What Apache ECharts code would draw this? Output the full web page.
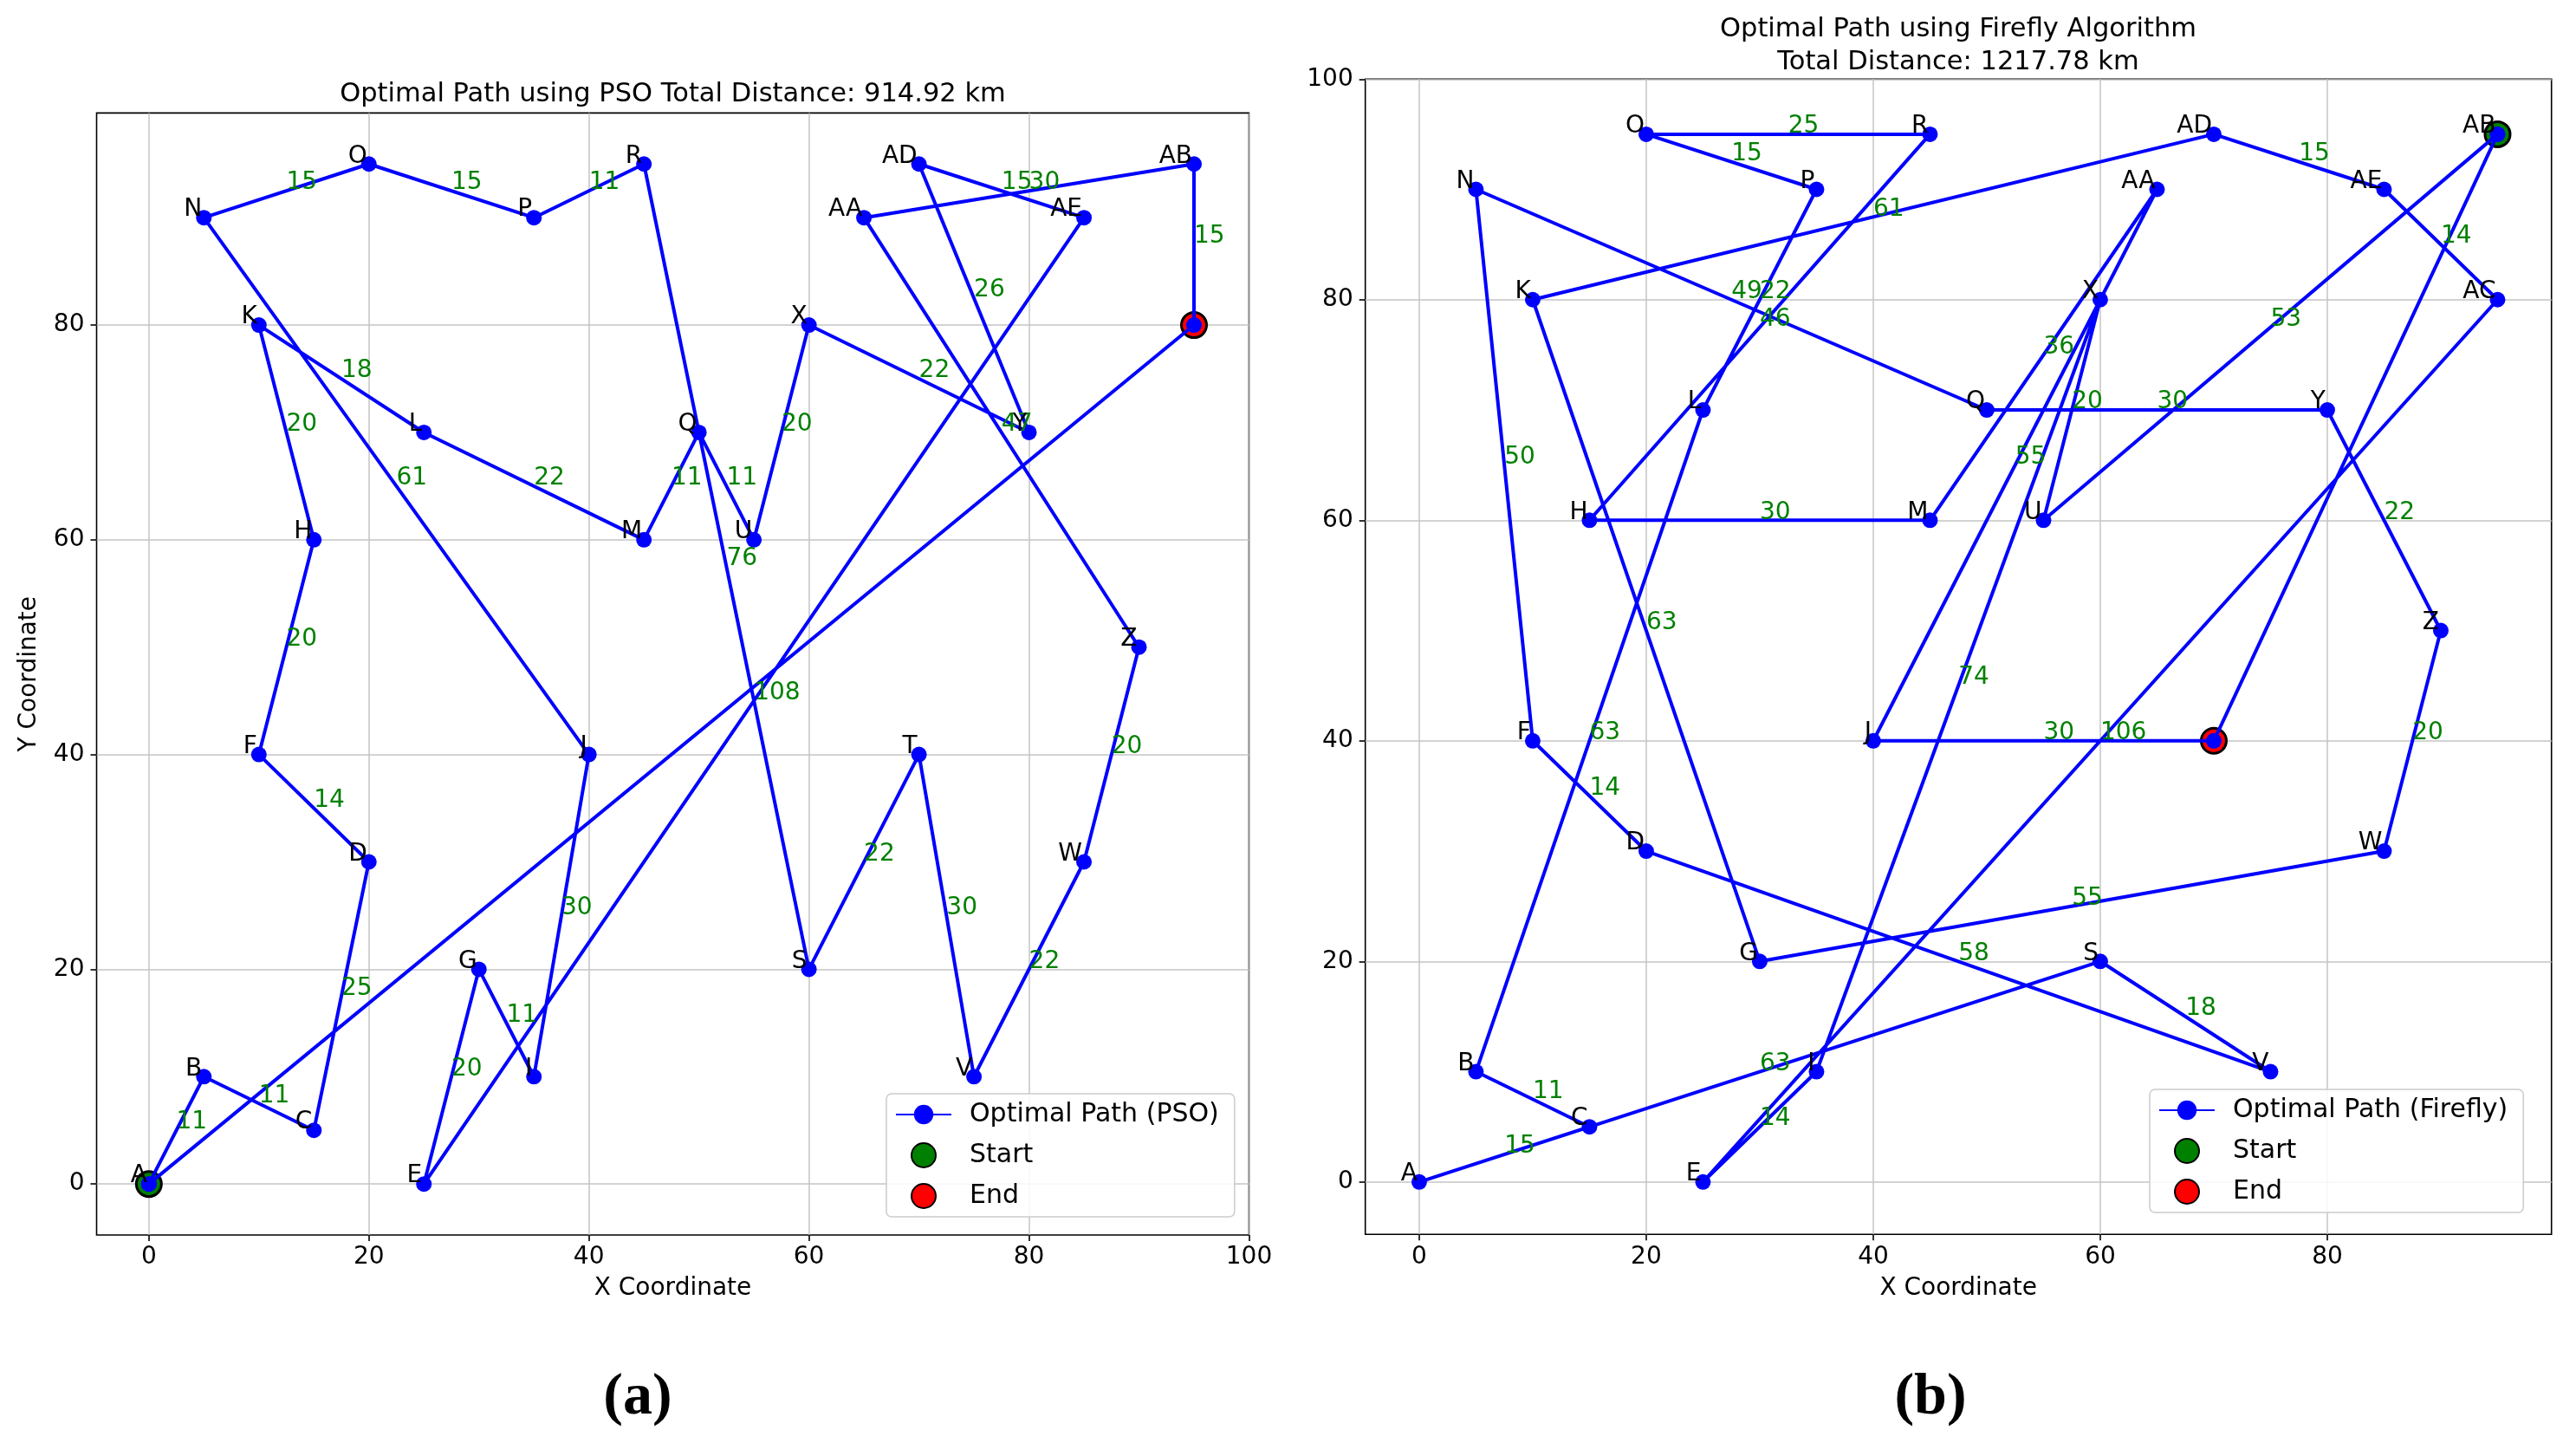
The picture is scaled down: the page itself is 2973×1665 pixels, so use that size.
<!DOCTYPE html>
<html>
<head>
<meta charset="utf-8">
<script src="https://cdn.jsdelivr.net/npm/echarts@6/dist/echarts.min.js"></script>
<style>
html,body{margin:0;padding:0;background:#ffffff;}
#chart{width:2973px;height:1665px;}
</style>
</head>
<body>
<div id="chart"></div>
<script>
// ---------------- DATA ----------------
const cityNames = ['A','B','C','D','E','F','G','H','I','J','K','L','M','N','O','P','Q','R','S','T','U','V','W','X','Y','Z','AA','AB','AC','AD','AE'];
const cityX = [0,5,15,20,25,10,30,15,35,40,10,25,45,5,20,35,50,45,60,70,55,75,85,60,80,90,65,95,95,70,85];
const cityY = [0,10,5,30,0,40,20,60,10,40,80,70,60,90,95,90,70,95,20,40,60,10,30,80,70,50,90,95,80,95,90];

const psoRoute = ['A','B','C','D','F','H','K','L','M','Q','U','X','Y','AD','AE','E','G','I','J','N','O','P','R','S','T','V','W','Z','AA','AB','AC'];
const psoDistances = [11,11,25,14,20,20,18,22,11,11,20,22,26,15,108,20,11,30,61,15,15,11,76,22,30,22,20,47,30,15];

const fireflyRoute = ['AB','U','X','I','E','AC','AE','AD','K','G','W','Z','Y','Q','N','F','D','V','S','A','C','B','L','P','O','R','H','M','AA','J','T'];
const fireflyDistances = [53,20,74,14,106,14,15,61,63,55,20,22,30,49,50,14,58,18,63,15,11,63,22,15,25,46,30,36,55,30];

const psoTitle = 'Optimal Path using PSO Total Distance: 914.92 km';
const fireflyTitle = 'Optimal Path using Firefly Algorithm\nTotal Distance: 1217.78 km';

const xTicksA = [0,20,40,60,80,100];
const yTicksA = [0,20,40,60,80];
const xTicksB = [0,20,40,60,80];
const yTicksB = [0,20,40,60,80,100];

// ---------------- HELPERS ----------------
const FONT = 'DejaVu Sans';
function pt(name){ const i = cityNames.indexOf(name); return [cityX[i], cityY[i]]; }

function axisX(idx, min, max, ticks, showName){
  return {
    gridIndex: idx, type: 'value', min: min, max: max,
    axisLine: {show: false, onZero: false},
    axisTick: {show: true, inside: false, length: 7, lineStyle: {color: '#000', width: 1.6}, customValues: ticks},
    axisLabel: {customValues: ticks, fontSize: 28, color: '#000', fontFamily: FONT, margin: 12,
      formatter: v => (ticks.indexOf(v) >= 0 ? String(v) : '')},
    splitLine: {show: true, lineStyle: {color: '#c4c4c4', width: 1.5}},
    name: showName ? 'X Coordinate' : '', nameLocation: 'middle', nameGap: 48,
    nameTextStyle: {fontSize: 28, color: '#000', fontFamily: FONT}
  };
}
function axisY(idx, min, max, ticks, showName){
  return {
    gridIndex: idx, type: 'value', min: min, max: max,
    axisLine: {show: false, onZero: false},
    axisTick: {show: true, inside: false, length: 7, lineStyle: {color: '#000', width: 1.6}, customValues: ticks},
    axisLabel: {customValues: ticks, fontSize: 28, color: '#000', fontFamily: FONT, margin: 14,
      formatter: v => (ticks.indexOf(v) >= 0 ? String(v) : '')},
    splitLine: {show: true, lineStyle: {color: '#c4c4c4', width: 1.5}},
    name: showName ? 'Y Coordinate' : '', nameLocation: 'middle', nameGap: 64,
    nameTextStyle: {fontSize: 28, color: '#000', fontFamily: FONT}
  };
}

function textSeries(idx, items, color, align, dx, dy){
  return {
    type: 'custom', xAxisIndex: idx, yAxisIndex: idx, z: 10, silent: true,
    data: items.map(it => [it.x, it.y]),
    encode: {x: 0, y: 1},
    renderItem: function(params, api){
      const p = api.coord([api.value(0), api.value(1)]);
      return {
        type: 'text', x: p[0] + dx, y: p[1] + dy,
        style: {text: items[params.dataIndex].text, fill: color,
          font: '28px "' + FONT + '"', textAlign: align, textVerticalAlign: 'bottom'}
      };
    }
  };
}

function panelSeries(idx, route, dists, pathName){
  const pathData = route.map(pt); pathData.push(pt(route[0]));
  const edgeItems = dists.map((d, i) => {
    const a = pt(route[i]), b = pt(route[i+1]);
    return {x: (a[0]+b[0])/2, y: (a[1]+b[1])/2, text: String(d)};
  });
  const cityItems = route.slice(0, route.length - 1).map(n => { const c = pt(n); return {x: c[0], y: c[1], text: n}; });
  return [
    {name: 'Start', type: 'scatter', xAxisIndex: idx, yAxisIndex: idx, z: 2, symbol: 'circle', symbolSize: 29,
     itemStyle: {color: '#008000', borderColor: '#000', borderWidth: 3, opacity: 1}, data: [pt(route[0])]},
    {name: 'End', type: 'scatter', xAxisIndex: idx, yAxisIndex: idx, z: 2, symbol: 'circle', symbolSize: 29,
     itemStyle: {color: '#ff0000', borderColor: '#000', borderWidth: 3, opacity: 1}, data: [pt(route[route.length-1])]},
    {name: pathName, type: 'line', xAxisIndex: idx, yAxisIndex: idx, z: 3, symbol: 'circle', symbolSize: 18, showSymbol: true,
     lineStyle: {color: '#0000ff', width: 4}, itemStyle: {color: '#0000ff', opacity: 1}, data: pathData},
    textSeries(idx, edgeItems, '#008000', 'left', 0, 5),
    textSeries(idx, cityItems, '#000000', 'right', -2, 5)
  ];
}

function legendFor(names, left, top){
  return {
    data: names, orient: 'vertical', left: left, top: top, selectedMode: false,
    itemWidth: 64, itemHeight: 28, itemGap: 17, padding: [9, 18, 9, 10],
    borderColor: '#cccccc', borderWidth: 1.5, borderRadius: 6, backgroundColor: 'rgba(255,255,255,0.85)',
    textStyle: {fontSize: 30, color: '#000', fontFamily: FONT, padding: [0, 0, 0, 16]}
  };
}

// ---------------- CHART ----------------
const chart = echarts.init(document.getElementById('chart'));
const option = {
  animation: false,
  backgroundColor: '#ffffff',
  textStyle: {fontFamily: FONT},
  grid: [
    {left: 111.5, top: 130.4, width: 1330, height: 1294.6, show: true, borderColor: '#000', borderWidth: 1.6, backgroundColor: 'transparent'},
    {left: 1575.7, top: 91.25, width: 1369, height: 1333, show: true, borderColor: '#000', borderWidth: 1.6, backgroundColor: 'transparent'}
  ],
  xAxis: [axisX(0, -4.75, 100, xTicksA, true), axisX(1, -4.75, 99.75, xTicksB, true)],
  yAxis: [axisY(0, -4.75, 99.75, yTicksA, true), axisY(1, -4.75, 100, yTicksB, false)],
  legend: [
    legendFor(['Optimal Path (PSO)', 'Start', 'End'], 1023, 1262),
    legendFor(['Optimal Path (Firefly)', 'Start', 'End'], 2481, 1257)
  ],
  graphic: [
    {type: 'text', x: 776.5, y: 109, style: {text: psoTitle, font: '30.5px "' + FONT + '"', fill: '#000', textAlign: 'center', textVerticalAlign: 'middle'}},
    {type: 'text', x: 2260, y: 53, style: {text: fireflyTitle, font: '30.5px "' + FONT + '"', lineHeight: 38, fill: '#000', textAlign: 'center', textVerticalAlign: 'middle'}},
    {type: 'text', x: 736, y: 1613, style: {text: '(a)', font: 'bold 68px "Liberation Serif"', fill: '#000', textAlign: 'center', textVerticalAlign: 'middle'}},
    {type: 'text', x: 2228, y: 1613, style: {text: '(b)', font: 'bold 68px "Liberation Serif"', fill: '#000', textAlign: 'center', textVerticalAlign: 'middle'}}
  ],
  series: [].concat(
    panelSeries(0, psoRoute, psoDistances, 'Optimal Path (PSO)'),
    panelSeries(1, fireflyRoute, fireflyDistances, 'Optimal Path (Firefly)')
  )
};
chart.setOption(option);
</script>
</body>
</html>
